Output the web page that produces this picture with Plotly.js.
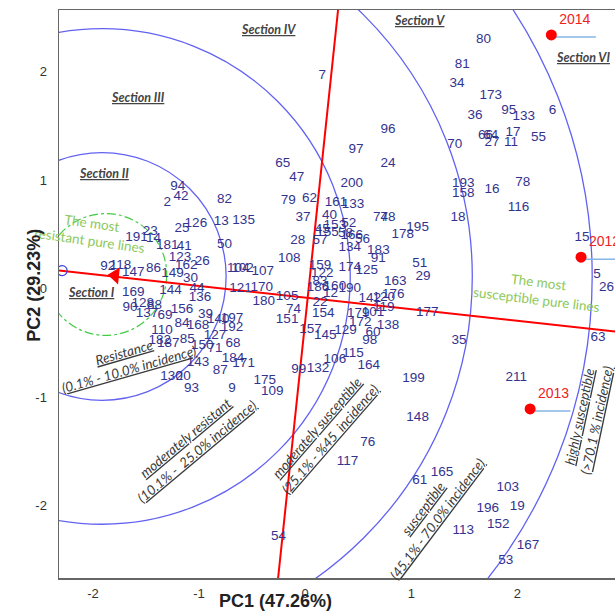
<!DOCTYPE html>
<html><head><meta charset="utf-8">
<script src="https://cdn.plot.ly/plotly-3.0.1.min.js"></script>
<style>html,body{margin:0;padding:0;background:#fff;overflow:hidden}#chart{width:615px;height:613px}</style>
</head><body><div id="chart"></div>
<script>
// Genotype (pure line) scores
const genotypes = ["94","42","2","82","25","126","13","50","23","191",
"14","181","41","123","162","26","149","30","92","118",
"147","86","144","44","136","104","102","107","121","170",
"135","65","47","79","62","37","28","108","180","105",
"169","90","128","88","137","69","156","39","140","197",
"192","84","168","110","182","187","85","127","150","71",
"68","143","184","171","87","130","20","93","9","175",
"109","200","161","133","40","77","48","195","178","52",
"45","153","155","58","166","56","134","57","183","91",
"174","125","159","122","83","51","29","163","176","120",
"142","119","177","186","160","12","190","22","154","74",
"151","157","145","129","179","172","101","138","60","98",
"99","132","106","115","164","199","148","76","117","61",
"165","54","35","211","63","103","19","196","152","113",
"167","53","7","80","81","34","173","36","95","133",
"6","55","17","64","66","27","11","96","97","24",
"70","193","158","16","78","116","18","15","5","26"];
const pc1 = [-1.20,-1.17,-1.30,-0.76,-1.16,-1.03,-0.79,-0.76,-1.46,-1.59,
-1.43,-1.30,-1.14,-1.18,-1.12,-0.97,-1.25,-1.08,-1.86,-1.74,
-1.62,-1.43,-1.27,-1.02,-0.99,-0.63,-0.59,-0.40,-0.61,-0.41,
-0.58,-0.21,-0.08,-0.16,0.04,-0.02,-0.07,-0.15,-0.39,-0.17,
-1.62,-1.65,-1.53,-1.42,-1.49,-1.32,-1.16,-0.94,-0.82,-0.69,
-0.69,-1.16,-1.01,-1.35,-1.37,-1.29,-1.11,-0.85,-0.97,-0.85,
-0.68,-1.01,-0.68,-0.58,-0.80,-1.26,-1.15,-1.07,-0.69,-0.38,
-0.31,0.44,0.29,0.45,0.23,0.71,0.78,1.06,0.92,0.41,
0.16,0.28,0.21,0.38,0.44,0.54,0.42,0.14,0.69,0.69,
0.42,0.58,0.14,0.16,0.14,1.08,1.11,0.85,0.83,0.74,
0.61,0.74,1.15,0.12,0.28,0.24,0.42,0.14,0.17,-0.11,
-0.17,0.05,0.19,0.38,0.50,0.52,0.64,0.78,0.64,0.61,
-0.06,0.12,0.28,0.45,0.60,1.02,1.06,0.59,0.40,1.08,
1.29,-0.25,1.45,1.99,2.76,1.91,2.00,1.72,1.82,1.49,
2.10,1.89,0.16,1.68,1.48,1.43,1.75,1.60,1.92,2.06,
2.33,2.20,1.96,1.75,1.70,1.76,1.94,0.78,0.48,0.78,
1.41,1.49,1.49,1.76,2.05,2.01,1.44,2.61,2.75,2.84];
const pc2 = [0.94,0.85,0.79,0.82,0.55,0.60,0.62,0.41,0.53,0.47,
0.46,0.40,0.39,0.29,0.21,0.25,0.14,0.09,0.20,0.21,
0.15,0.18,-0.02,0.00,-0.08,0.18,0.18,0.16,0.00,0.01,
0.63,1.15,1.02,0.81,0.83,0.65,0.44,0.28,-0.12,-0.07,
-0.04,-0.18,-0.14,-0.16,-0.23,-0.25,-0.19,-0.24,-0.29,-0.28,
-0.36,-0.32,-0.34,-0.39,-0.48,-0.51,-0.47,-0.43,-0.53,-0.55,
-0.51,-0.68,-0.65,-0.69,-0.76,-0.81,-0.81,-0.92,-0.92,-0.85,
-0.95,0.97,0.79,0.77,0.67,0.65,0.65,0.56,0.50,0.60,
0.54,0.58,0.52,0.51,0.49,0.45,0.38,0.44,0.35,0.28,
0.19,0.17,0.21,0.14,0.06,0.23,0.11,0.06,-0.06,-0.08,
-0.09,-0.18,-0.22,0.01,0.02,-0.05,0.00,-0.13,-0.23,-0.19,
-0.29,-0.38,-0.43,-0.39,-0.23,-0.31,-0.22,-0.34,-0.41,-0.48,
-0.75,-0.74,-0.66,-0.60,-0.71,-0.83,-1.19,-1.42,-1.60,-1.77,
-1.70,-2.29,-0.48,-0.82,-0.45,-1.84,-2.01,-2.03,-2.18,-2.23,
-2.37,-2.51,1.96,2.30,2.07,1.89,1.78,1.60,1.64,1.59,
1.64,1.39,1.44,1.41,1.41,1.35,1.35,1.47,1.28,1.15,
1.33,0.97,0.88,0.91,0.98,0.75,0.65,0.47,0.13,0.01];

// Environments (years)
const envNames = ["2014","2012","2013"];
const envPC1 = [2.32, 2.60, 2.12];
const envPC2 = [2.34, 0.29, -1.11];
const envLineEnd = [2.74, 2.95, 2.50];

// Average environment axis and its ordinate
const aeaX = [-2.32, 2.95];
const aeaY = [0.166, -0.40];
const atcX = [0.31, -0.255];
const atcY = [2.57, -2.67];
const idealMarker = [-2.29, 0.166];
const arrowHead = [-1.79, 0.12];

// Concentric rings around the ideal genotype
const ringCenter = [-1.915, 0.112];
const ringRadii = [1.17, 2.34, 3.49, 4.62];
const bestCenter = [-1.88, 0.13];
const bestRadius = 0.575;

// Text labels
const sectionNames = ["Section I","Section II","Section III","Section IV","Section V","Section VI"];
const sectionX = [-2.01, -1.90, -1.58, -0.35, 1.08, 2.62];
const sectionY = [-0.04, 1.06, 1.76, 2.39, 2.47, 2.13];
const classNames = ["Resistance<br>(0.1% - 10.0% incidence)",
  "moderately resistant<br>(10.1% -  25.0% incidence)",
  "moderately susceptible<br>(25.1% - %45  incidence)",
  "susceptible<br>(45.1% - 70.0% incidence)",
  "highly susceptible<br>(>70.1 % incidence)"];
const classX = [-1.68, -1.075, 0.17, 1.18, 2.665];
const classY = [-0.67, -1.44, -1.34, -2.08, -1.20];
const classAngle = [-16, -40, -49, -53, -78];
const greenNames = ["The most<br>resistant pure lines", "The most<br>susceptible pure lines"];
const greenX = [-2.02, 2.19];
const greenY = [0.52, -0.02];
const greenAngle = [8, 7];

const xRange = [-2.32, 2.92];
const yRange = [-2.67, 2.57];
const yAspect = 106 / 108.5;

const traces = [
  {x: pc1, y: pc2, text: genotypes, mode: 'text', type: 'scatter',
   textfont: {family: 'Liberation Sans, Arial, sans-serif', size: 13.5, color: '#33338f'},
   textposition: 'middle center', hoverinfo: 'none'},
  {x: [arrowHead[0]], y: [arrowHead[1]], mode: 'markers', type: 'scatter',
   marker: {symbol: 'triangle-left', size: 15, color: '#ff0000', angle: 6}, hoverinfo: 'none'},
  {x: [idealMarker[0]], y: [idealMarker[1]], mode: 'markers', type: 'scatter',
   marker: {symbol: 'circle-open', size: 10, color: '#3f3fe0', line: {width: 1.2}}, hoverinfo: 'none'},
  {x: envPC1, y: envPC2, text: envNames, mode: 'markers+text', type: 'scatter',
   marker: {size: 11, color: '#ff0000'}, textposition: 'top right',
   textfont: {family: 'Liberation Sans, Arial, sans-serif', size: 14, color: '#ee2222'}, hoverinfo: 'none'}
];

const shapes = [];
ringRadii.forEach(r => shapes.push({type: 'circle', xref: 'x', yref: 'y', layer: 'below',
  x0: ringCenter[0] - r, x1: ringCenter[0] + r,
  y0: ringCenter[1] - r * yAspect, y1: ringCenter[1] + r * yAspect,
  line: {color: '#6262f2', width: 1.3}}));
shapes.push({type: 'circle', xref: 'x', yref: 'y', layer: 'below',
  x0: bestCenter[0] - bestRadius, x1: bestCenter[0] + bestRadius,
  y0: bestCenter[1] - bestRadius * yAspect, y1: bestCenter[1] + bestRadius * yAspect,
  line: {color: '#44cc44', width: 1.2, dash: 'dashdot'}});
shapes.push({type: 'line', xref: 'x', yref: 'y', layer: 'below', x0: aeaX[0], y0: aeaY[0], x1: aeaX[1], y1: aeaY[1],
  line: {color: '#ff0000', width: 2}});
shapes.push({type: 'line', xref: 'x', yref: 'y', layer: 'below', x0: atcX[0], y0: atcY[0], x1: atcX[1], y1: atcY[1],
  line: {color: '#ff0000', width: 2}});
envPC1.forEach((v, i) => shapes.push({type: 'line', xref: 'x', yref: 'y', layer: 'below',
  x0: v, y0: envPC2[i] - 0.02, x1: envLineEnd[i], y1: envPC2[i] - 0.02,
  line: {color: '#86b6e6', width: 1.5}}));

const annotations = [];
sectionNames.forEach((t, i) => annotations.push({x: sectionX[i], y: sectionY[i], xref: 'x', yref: 'y',
  text: '<u><b><i>' + t + '</i></b></u>', showarrow: false,
  font: {family: 'Lato, Open Sans, sans-serif', size: 12.5, color: '#444'}}));
classNames.forEach((t, i) => annotations.push({x: classX[i], y: classY[i], xref: 'x', yref: 'y',
  text: '<u><i>' + t.replace('<br>', '</i></u><br><u><i>') + '</i></u>', showarrow: false, textangle: classAngle[i], align: 'center',
  font: {family: 'Lato, Open Sans, sans-serif', size: 13.5, color: '#3a3a3a'}}));
greenNames.forEach((t, i) => annotations.push({x: greenX[i], y: greenY[i], xref: 'x', yref: 'y',
  text: t, showarrow: false, textangle: greenAngle[i], align: 'center',
  font: {family: 'Lato, Open Sans, sans-serif', size: 13.5, color: '#8cc85c'}}));
annotations.push({x: 0.39, y: -0.04, xref: 'paper', yref: 'paper', text: '<b>PC1 (47.26%)</b>', showarrow: false,
  yanchor: 'middle', font: {family: 'Liberation Sans, Arial, sans-serif', size: 18, color: '#222'}});
annotations.push({x: -0.066, y: 0.515, xref: 'paper', yref: 'paper', text: '<b>PC2 (29.23%)</b>', showarrow: false,
  textangle: -90, font: {family: 'Liberation Sans, Arial, sans-serif', size: 18, color: '#222'}});

const tickFont = {family: 'Liberation Sans, Arial, sans-serif', size: 13, color: '#333'};
const layout = {
  width: 615, height: 613,
  margin: {l: 59, r: 0, t: 10, b: 35},
  paper_bgcolor: '#fff', plot_bgcolor: '#fff',
  showlegend: false,
  xaxis: {range: xRange, tickvals: [-2, -1, 0, 1, 2], ticktext: ['-2', '-1', '0', '1', '2'],
    showgrid: false, zeroline: false, showline: true, linecolor: '#666', linewidth: 1.5, mirror: true,
    ticks: 'outside', ticklen: 3, tickcolor: 'rgba(0,0,0,0)', tickfont: tickFont, fixedrange: true},
  yaxis: {range: yRange, tickvals: [-2, -1, 0, 1, 2], ticktext: ['-2', '-1', '0', '1', '2'],
    showgrid: false, zeroline: false, showline: true, linecolor: '#666', linewidth: 1.5,
    ticks: 'outside', ticklen: 8, tickcolor: 'rgba(0,0,0,0)', tickfont: tickFont, fixedrange: true},
  shapes: shapes,
  annotations: annotations
};
Plotly.newPlot('chart', traces, layout, {displayModeBar: false, staticPlot: true});
</script>
</body></html>
